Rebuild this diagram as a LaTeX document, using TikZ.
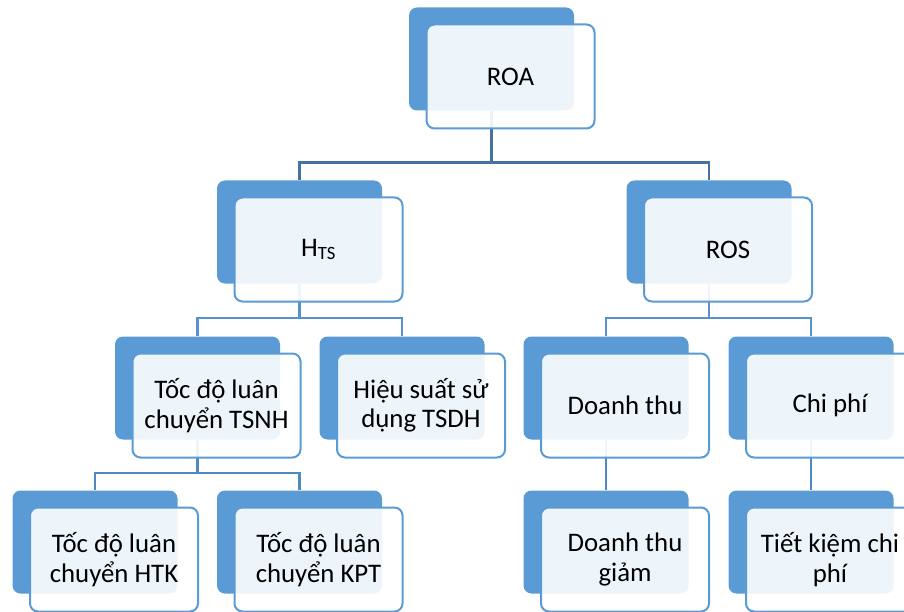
\documentclass[tikz,border=0pt]{standalone}
\usepackage{fontspec}
\setmainfont{Carlito}
\usepackage{tikz}
\usetikzlibrary{calc, backgrounds}

\definecolor{boxBlue}{RGB}{91,155,213}
\definecolor{barDark}{RGB}{68,114,165}
\definecolor{barMid}{RGB}{80,136,196}
\definecolor{barLight}{RGB}{88,146,206}

\begin{document}
\begin{tikzpicture}[x=1pt, y=-1pt,
		backBox/.style={rectangle, rounded corners=8pt, fill=boxBlue, minimum width=165pt, minimum height=103pt, inner sep=0pt},
		frontBox/.style={rectangle, rounded corners=8pt, draw=boxBlue, line width=2pt, fill=white, fill opacity=0.9, text opacity=1, minimum width=168pt, minimum height=104pt, inner sep=0pt, align=center, font=\fontsize{26.8}{29.5}\selectfont},
		bar/.style={line width=2.2pt}]
			\useasboundingbox (0,0) rectangle (904,612);
			\clip (0,0) rectangle (904,612);

			\newcommand{\drawBlock}[4]
			{
				\node [backBox] (#1B) at (#2,#3) {};
				\node [frontBox] (#1) at ($ (#1B) + (19,17.5) $) {#4};
			}

			\begin{scope}
				\drawBlock{roa}{491.5}{59}{ROA}
			\end{scope}

			\begin{scope}
				\drawBlock{hts}{299.5}{232}{H\textsubscript{TS}}
				\drawBlock{ros}{709}{232}{ROS}
			\end{scope}

			\begin{scope}
				\drawBlock{tsnh}{197.5}{388}{Tốc độ luân\\chuyển TSNH}
				\drawBlock{tsdh}{402}{388}{Hiệu suất sử\\dụng TSDH}
				\drawBlock{dthu}{606}{388}{Doanh thu}
				\drawBlock{cphi}{811}{388}{Chi phí}
			\end{scope}

			\begin{scope}
				\drawBlock{htk}{95}{542}{Tốc độ luân\\chuyển HTK}
				\drawBlock{kpt}{299.5}{542}{Tốc độ luân\\chuyển KPT}
				\drawBlock{dtgiam}{606}{542}{Doanh thu\\giảm}
				\drawBlock{tkcp}{811}{542}{Tiết kiệm chi\\phí}
			\end{scope}

			\coordinate (levelOne) at (0,162.5);
			\coordinate (levelTwo) at (0,318);
			\coordinate (levelThree) at (0,473);

			\begin{scope}[on background layer={bar}]
				\draw [barDark] (roaB.south) -- (roaB.south |- levelOne) -| (htsB.north);
				\draw [barDark] (roaB.south) -- (roaB.south |- levelOne) -| (rosB.north);

				\draw [barLight] (htsB.south) -- (htsB.south |- levelTwo) -| (tsnhB.north);
				\draw [barLight] (htsB.south) -- (htsB.south |- levelTwo) -| (tsdhB.north);
				\draw [barLight] (rosB.south) -- (rosB.south |- levelTwo) -| (dthuB.north);
				\draw [barLight] (rosB.south) -- (rosB.south |- levelTwo) -| (cphiB.north);

				\draw [barMid] (tsnhB.south) -- (tsnhB.south |- levelThree) -| (htkB.north);
				\draw [barMid] (tsnhB.south) -- (tsnhB.south |- levelThree) -| (kptB.north);
				\draw [barMid] (dthuB.south) -- (dtgiamB.north);
				\draw [barMid] (cphiB.south) -- (tkcpB.north);
			\end{scope}
		\end{tikzpicture}
\end{document}
